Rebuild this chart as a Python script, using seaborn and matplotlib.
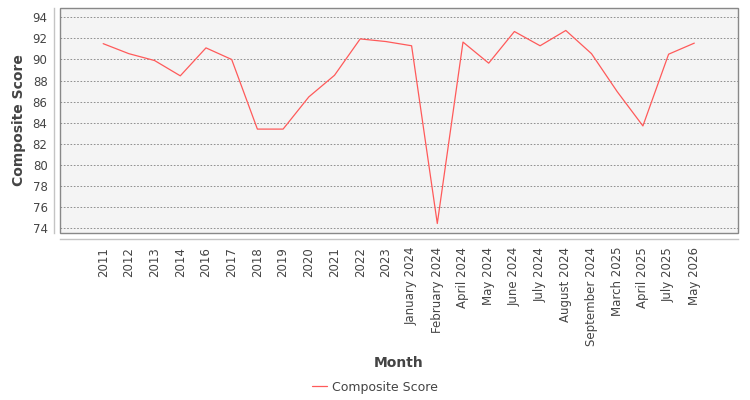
import matplotlib
matplotlib.use("Agg")
import matplotlib.pyplot as plt
import seaborn as sns
import numpy as np
import pandas as pd

months = ["2011", "2012", "2013", "2014", "2016", "2017", "2018", "2019",
          "2020", "2021", "2022", "2023", "January 2024", "February 2024",
          "April 2024", "May 2024", "June 2024", "July 2024", "August 2024",
          "September 2024", "March 2025", "April 2025", "July 2025", "May 2026"]
scores = [91.5, 90.55, 89.9, 88.45, 91.1, 90.0, 83.4, 83.4,
          86.45, 88.5, 91.95, 91.7, 91.3, 74.45,
          91.65, 89.65, 92.65, 91.3, 92.75,
          90.55, 86.95, 83.7, 90.5, 91.55]
y_ticks = list(range(74, 95, 2))

df = pd.DataFrame({"pos": np.arange(len(months)), "month": months, "score": scores})

sns.set_style("white")
plt.rcParams["font.family"] = ["DejaVu Sans"]

fig, ax = plt.subplots(figsize=(7.5, 4), dpi=100)
fig.subplots_adjust(left=0.08, right=0.984, top=0.98, bottom=0.4175)

ax.set_facecolor("#f4f4f4")
ax.patch.set_edgecolor("#888888")
ax.patch.set_linewidth(1.0)

sns.lineplot(data=df, x="pos", y="score", ax=ax, color="#ff5a5a",
             linewidth=0.9, label="Composite Score", legend=False)

ax.set_xlim(-1.68, len(months) - 1 + 1.7)
ax.set_ylim(73.55, 94.88)
ax.set_xticks(df["pos"])
ax.set_xticklabels(months)
ax.set_yticks(y_ticks)

ax.yaxis.grid(True, linestyle=(0, (2, 2)), color="#808080", linewidth=0.6)
ax.xaxis.grid(False)
ax.set_axisbelow(True)

for side in ["top", "right"]:
    ax.spines[side].set_visible(False)
for side in ["left", "bottom"]:
    ax.spines[side].set_position(("outward", 4))
    ax.spines[side].set_color("#c4c4c4")
    ax.spines[side].set_linewidth(1.0)

ax.tick_params(axis="both", colors="#c4c4c4", labelcolor="#444444",
               labelsize=8.5, length=2, width=0.8, pad=3)
ax.tick_params(axis="x", pad=4, labelrotation=90)

ax.set_xlabel("Month", fontsize=10, fontweight="bold", color="#444444", labelpad=7)
ax.set_ylabel("Composite Score", fontsize=10, fontweight="bold", color="#444444", labelpad=5)

handles, labels = ax.get_legend_handles_labels()
fig.legend(handles, labels, loc="center", bbox_to_anchor=(0.5, 1 - 387 / 400),
           frameon=False, fontsize=9, handlelength=1.2, handletextpad=0.35,
           labelcolor="#444444")

fig.savefig("out.png", dpi=100)
